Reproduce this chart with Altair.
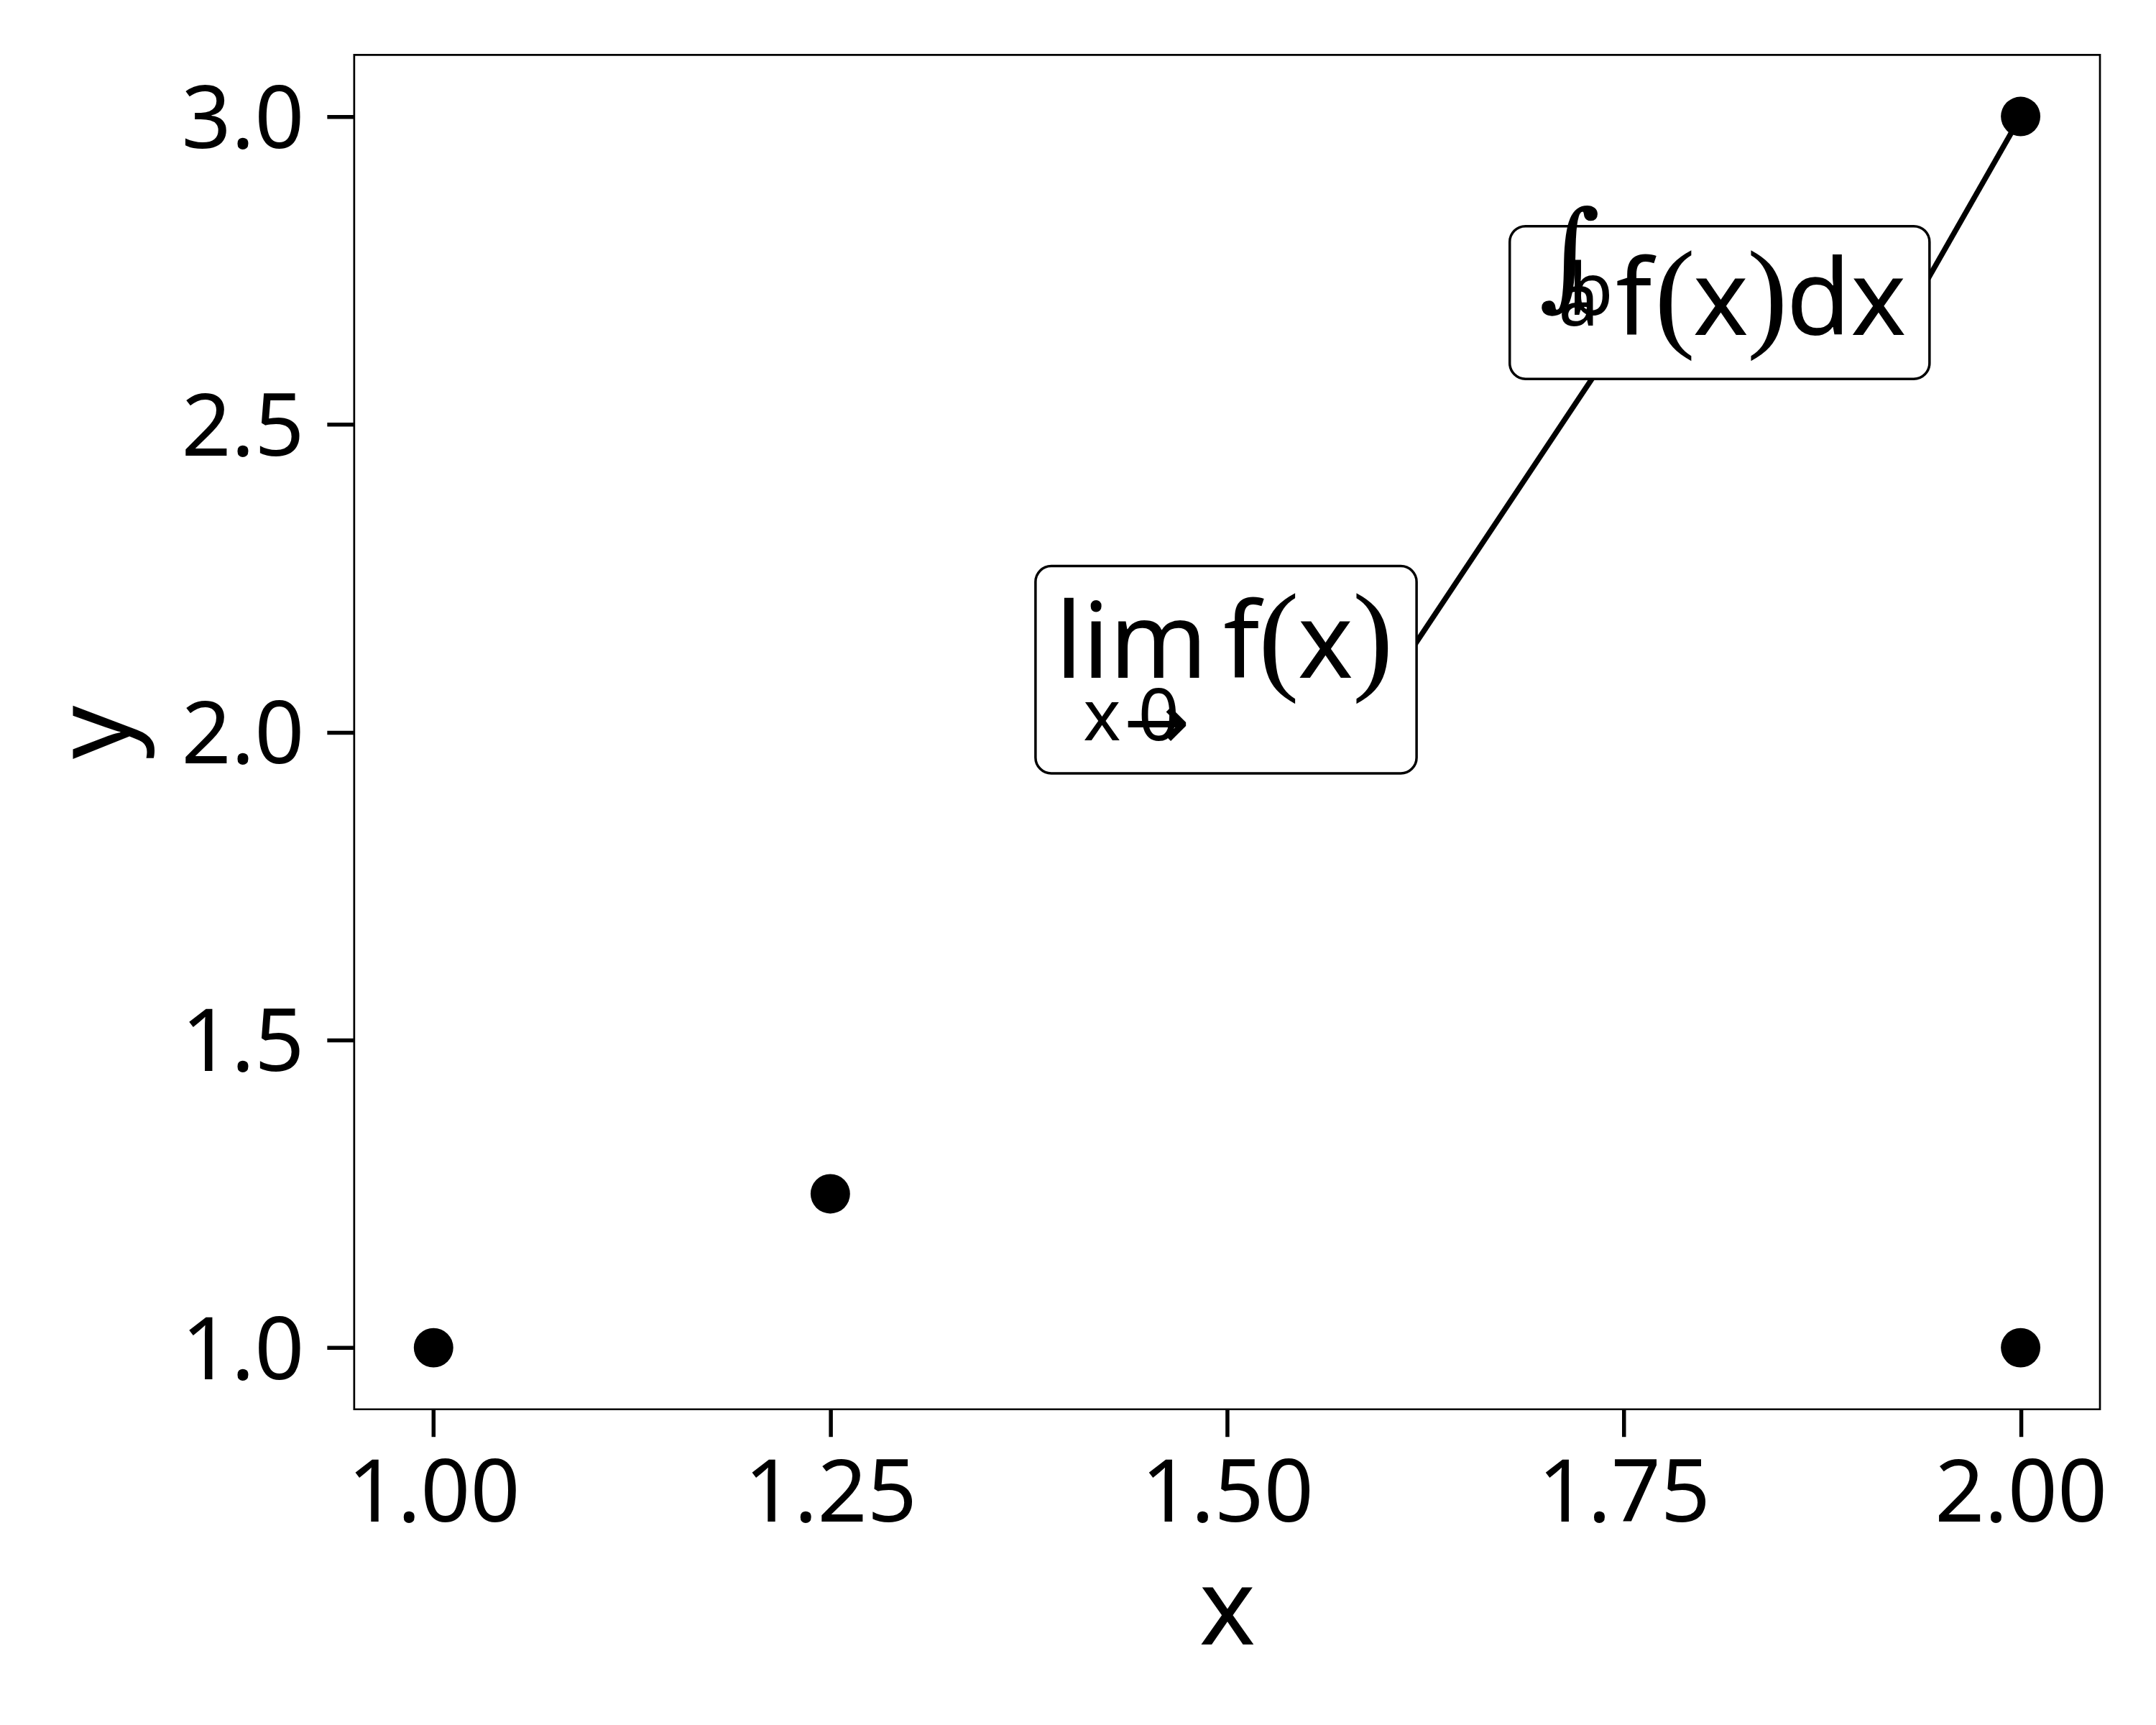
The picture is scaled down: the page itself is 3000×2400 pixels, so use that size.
import altair as alt
import pandas as pd

# data points
px = [1.0, 1.25, 2.0, 2.0]
py = [1.0, 1.25, 1.0, 3.0]

# label anchors (centres of label boxes) and box extents
label_names = ["lim", "int"]
label_x = [1.4993, 1.8104]
label_y = [2.1013, 2.6977]
box_x1 = [1.3793, 1.6781]
box_x2 = [1.6194, 1.9426]
box_y1 = [1.9330, 2.5737]
box_y2 = [2.2697, 2.8218]

# leader segments
seg_x1 = [1.6103, 1.9335]
seg_y1 = [2.1112, 2.6995]
seg_x2 = [1.7383, 2.0]
seg_y2 = [2.6063, 3.0]

x_ticks = [1.0, 1.25, 1.5, 1.75, 2.0]
y_ticks = [1.0, 1.5, 2.0, 2.5, 3.0]

SANS = "Noto Sans"
SERIF = "Liberation Serif"

# text pieces of the math labels: (label, text, dx, dy, size, font, style)
pieces = [
    ("lim", "lim", -131.5, 11.5, 146, SANS, "normal"),
    ("lim", "f", 21.5, 11.5, 146, SANS, "normal"),
    ("lim", "(", 73.5, 11.5, 170, SERIF, "normal"),
    ("lim", "x", 138.5, 11.5, 146, SANS, "normal"),
    ("lim", ")", 204.5, 11.5, 170, SERIF, "normal"),
    ("lim", "x", -172.5, 98.5, 99, SANS, "normal"),
    ("lim", "0", -93.5, 98.5, 100, SANS, "normal"),
    ("lim", "\u2192", -96.5, 110, 110, "DejaVu Sans", "normal"),
    ("int", "\u222b", -209, -11, 164, "DejaVu Serif", "italic"),
    ("int", "b", -179.5, 17.5, 101, SANS, "normal"),
    ("int", "a", -196.5, 32.5, 100, SANS, "normal"),
    ("int", "f", -119.5, 45.5, 146, SANS, "normal"),
    ("int", "(", -62.5, 45.5, 170, SERIF, "normal"),
    ("int", "x", 1.5, 45.5, 146, SANS, "normal"),
    ("int", ")", 66.5, 45.5, 170, SERIF, "normal"),
    ("int", "dx", 176, 45.5, 146, SANS, "normal"),
]

points = pd.DataFrame({"x": px, "y": py})
labels = pd.DataFrame({"name": label_names, "x": label_x, "y": label_y,
                       "x1": box_x1, "x2": box_x2, "y1": box_y1, "y2": box_y2})
segs = pd.DataFrame({"x": seg_x1, "y": seg_y1, "x2": seg_x2, "y2": seg_y2})

W, H = 2430, 1885

xscale = alt.Scale(domain=[0.95, 2.05], nice=False, zero=False)
yscale = alt.Scale(domain=[0.9, 3.1], nice=False, zero=False)

xaxis = alt.Axis(values=x_ticks, format=".2f", title="x", grid=False, domain=False,
                 tickSize=38, tickWidth=5.5, tickColor="black",
                 labelFont=SANS, labelFontSize=121, labelColor="black",
                 labelBaseline="alphabetic", labelPadding=118, labelFlush=False,
                 labelOverlap=False, labelBound=False, labelLimit=0,
                 titleFont=SANS, titleFontSize=148, titleFontWeight="normal",
                 titleColor="black", titleX=W / 2, titleY=327,
                 titleBaseline="alphabetic", titleAlign="center")
yaxis = alt.Axis(values=y_ticks, format=".1f", title="y", grid=False, domain=False,
                 tickSize=38, tickWidth=5.5, tickColor="black",
                 labelFont=SANS, labelFontSize=121, labelColor="black",
                 labelBaseline="alphabetic", labelOffset=43, labelPadding=32,
                 labelFlush=False, labelOverlap=False, labelBound=False, labelLimit=0,
                 titleFont=SANS, titleFontSize=146, titleFontWeight="normal",
                 titleColor="black", titleX=-313, titleY=H / 2, titleAngle=270,
                 titleBaseline="alphabetic", titleAlign="center")

base_pts = alt.Chart(points).mark_point(filled=True, color="black", size=3019, opacity=1).encode(
    x=alt.X("x:Q", scale=xscale, axis=xaxis),
    y=alt.Y("y:Q", scale=yscale, axis=yaxis),
)

lines = alt.Chart(segs).mark_rule(color="black", strokeWidth=7.5).encode(
    x=alt.X("x:Q", scale=xscale), y=alt.Y("y:Q", scale=yscale),
    x2="x2:Q", y2="y2:Q",
)

boxes = alt.Chart(labels).mark_rect(fill="white", stroke="black", strokeWidth=3.5,
                                    cornerRadius=22).encode(
    x=alt.X("x1:Q", scale=xscale), x2="x2:Q",
    y=alt.Y("y1:Q", scale=yscale), y2="y2:Q",
)

layers = [lines, base_pts, boxes]
for (name, txt, dx, dy, size, font, style) in pieces:
    t = alt.Chart(labels).transform_filter(alt.datum.name == name).mark_text(
        text=txt, dx=dx, dy=dy, fontSize=size, font=font, fontStyle=style,
        align="center", baseline="alphabetic", color="black",
    ).encode(x=alt.X("x:Q", scale=xscale), y=alt.Y("y:Q", scale=yscale))
    layers.append(t)

chart = alt.layer(*layers).properties(
    width=W, height=H,
    background="white",
    autosize=alt.AutoSizeParams(type="none"),
    padding={"left": 485, "top": 68, "right": 70, "bottom": 420},
).configure_view(stroke="black", strokeWidth=2.7)

chart.save("out.html", embed_options={"renderer": "svg", "actions": False})
